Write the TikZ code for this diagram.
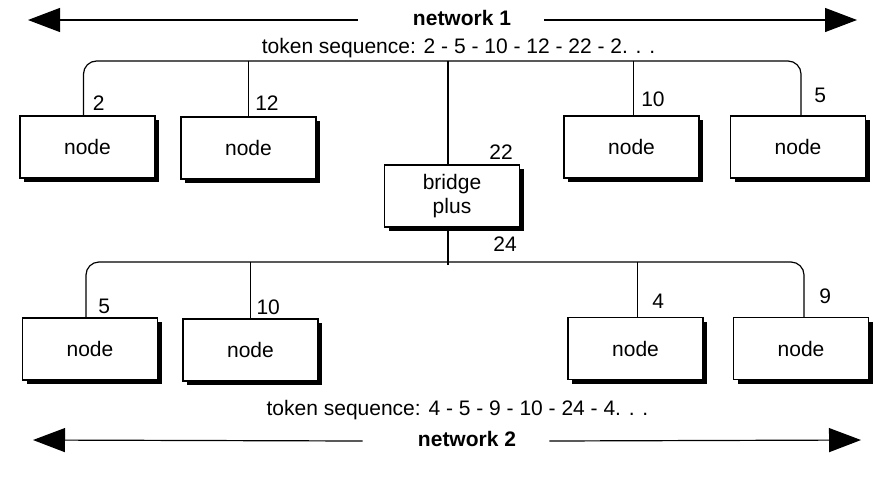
\documentclass[tikz,border=0pt]{standalone}
\usepackage{fontspec}
\setmainfont{Liberation Sans}
\usepackage{tikz}
\usetikzlibrary{arrows.meta}
\usetikzlibrary{positioning}
\usetikzlibrary{shadows}

\begin{document}
\begin{tikzpicture}[x=0.5pt,y=-0.5pt,font=\fontsize{10.5pt}{12pt}\selectfont]
\tikzset{NodeBox/.style={
  draw,
  fill=white,
  rectangle,
  line width=0.6pt,
  align=center,
  minimum width=67.5pt,
  minimum height=31pt,
  drop shadow={shadow xshift=2.2pt, shadow yshift=-2.2pt, fill=black, opacity=1},
}}
\tikzset{AddrLabel/.style={
  inner sep=0pt,
}}
\tikzset{NetTitle/.style={
  inner sep=0pt,
  font=\fontsize{10.5pt}{12pt}\selectfont\bfseries,
}}
\tikzset{BusLine/.style={line width=0.6pt, rounded corners=6.5pt}}
\tikzset{NetArrow/.style={line width=0.6pt, -{Triangle[length=16pt,width=12pt]}}}

\useasboundingbox (0,0) rectangle (886,477);

% network 1
\node[NetTitle] (netA) at (462,18) {network 1};
\coordinate (tipAl) at (28,20);
\coordinate (tipAr) at (857,20);
\draw[NetArrow] ([xshift=-27.5pt,yshift=-1pt]netA.west) -- (tipAl);
\draw[NetArrow] ([xshift=16.5pt,yshift=-1pt]netA.east) -- (tipAr);
\node[inner sep=0pt] (seqA) at (458.5,48) {token sequence: 2 - 5 - 10 - 12 - 22 - 2. . .};

\node[NodeBox] (nodeA1) at (87.5,147) {node};
\node[NodeBox] (nodeA2) at (248.5,148) {node};
\node[NodeBox] (nodeA3) at (631.5,147) {node};
\node[NodeBox] (nodeA4) at (798,147) {node};

\node[NodeBox] (bridge) at (452,196) {bridge\\plus};

\coordinate (busA) at (450,61);
\draw[BusLine] ([xshift=-2pt]nodeA1.north) |- (busA) -| ([xshift=1.5pt]nodeA4.north);
\draw[line width=0.6pt] (nodeA2.north) -- (nodeA2.north |- busA);
\draw[line width=0.6pt] ([xshift=1pt]nodeA3.north) -- ([xshift=1pt]nodeA3.north |- busA);
\draw[line width=0.6pt] ([xshift=-2pt]bridge.north) -- ([xshift=-2pt]bridge.north |- busA);

\node[AddrLabel, above right=2.2pt and 2.5pt of nodeA1.north] (adrA1) {2};
\node[AddrLabel, above right=2.7pt and 3.2pt of nodeA2.north] (adrA2) {12};
\node[AddrLabel, above right=4.2pt and 4.7pt of nodeA3.north] (adrA3) {10};
\node[AddrLabel, above right=6.2pt and 8pt of nodeA4.north] (adrA4) {5};
\node[AddrLabel, above left=2.2pt and 3.5pt of bridge.north east] (adrBa) {22};
\node[AddrLabel, below left=4.2pt and 1.5pt of bridge.south east] (adrBb) {24};

% network 2
\node[NodeBox] (nodeB1) at (90,349) {node};
\node[NodeBox] (nodeB2) at (250.5,350) {node};
\node[NodeBox] (nodeB3) at (635.5,348.5) {node};
\node[NodeBox] (nodeB4) at (801,348.5) {node};

\coordinate (busB) at (450,262);
\draw[BusLine] ([xshift=-2pt]nodeB1.north) |- (busB) -| ([xshift=1.5pt]nodeB4.north);
\draw[line width=0.6pt] (nodeB2.north) -- (nodeB2.north |- busB);
\draw[line width=0.6pt] ([xshift=1pt]nodeB3.north) -- ([xshift=1pt]nodeB3.north |- busB);
\draw[line width=0.6pt] ([xshift=-2pt]bridge.south) -- ([xshift=-2pt,yshift=-1.5pt]bridge.south |- busB);

\node[AddrLabel, above right=1.8pt and 4pt of nodeB1.north] (adrB1) {5};
\node[AddrLabel, above right=1.8pt and 2.8pt of nodeB2.north] (adrB2) {10};
\node[AddrLabel, above right=3.8pt and 8.2pt of nodeB3.north] (adrB3) {4};
\node[AddrLabel, above right=6.2pt and 9pt of nodeB4.north] (adrB4) {9};

\node[inner sep=0pt] (seqB) at (457.5,410) {token sequence: 4 - 5 - 9 - 10 - 24 - 4. . .};
\node[NetTitle] (netB) at (467,439) {network 2};
\coordinate (tipBl) at (33,440);
\coordinate (tipBr) at (861,440);
\draw[NetArrow] ([xshift=-27.5pt,yshift=-1pt]netB.west) -- (tipBl);
\draw[NetArrow] ([xshift=16.5pt,yshift=-1pt]netB.east) -- (tipBr);
\end{tikzpicture}
\end{document}
